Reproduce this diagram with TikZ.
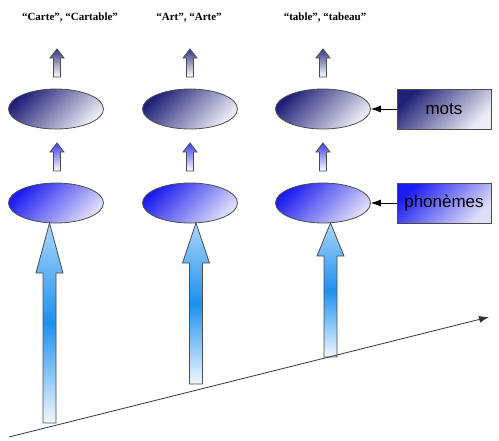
\documentclass[tikz,border=0pt]{standalone}
\usepackage{fontspec}
\setmainfont{Liberation Serif}
\setsansfont{Liberation Sans}
\usetikzlibrary{arrows.meta, positioning, shapes.geometric}

\definecolor{navy}{RGB}{32,32,120}
\definecolor{navylight}{RGB}{236,236,246}
\definecolor{royal}{RGB}{28,28,240}
\definecolor{royallight}{RGB}{222,222,248}
\definecolor{skytop}{RGB}{170,214,250}
\definecolor{skymid}{RGB}{30,144,240}
\definecolor{skybot}{RGB}{242,248,255}

\begin{document}
\begin{tikzpicture}[
  x=1pt, y=-1pt, font=\sffamily,
  > = {Latex[length=10pt,width=7pt]},
  outline/.style = {draw=black!70, line width=0.8pt},
  word/.style = {font=\rmfamily\bfseries\fontsize{11}{13}\selectfont},
  blob/.style = {outline, ellipse, minimum width=95pt, minimum height=40pt},
  upper/.style = {blob, top color=navy, bottom color=navylight, shading angle=45},
  lower/.style = {blob, top color=royal, bottom color=royallight, shading angle=45},
  level/.style = {outline, minimum width=94pt, minimum height=40pt, font=\sffamily\fontsize{17}{20}\selectfont},
  bigarrow/.style = {outline, top color=skytop, bottom color=skybot, middle color=skymid},
  tinyarrow/.style = {outline, top color=#1, bottom color=white}
  ]
  \useasboundingbox (0,0) rectangle (499,440);
  % words
  \node[word] (w1) at (70,18) {“Carte”, “Cartable”};
  \node[word] (w2) at (189,18) {“Art”, “Arte”};
  \node[word] (w3) at (325,18) {“table”, “tabeau”};
  % ellipses
  \node[upper] (ue1) at (56,109) {};
  \node[upper] (ue2) at (190,109) {};
  \node[upper] (ue3) at (323,109) {};
  \node[lower] (le1) at (56,203) {};
  \node[lower] (le2) at (190,203) {};
  \node[lower] (le3) at (323,203) {};
  % levels
  \node[level, top color=navy, bottom color=navylight, shading angle=45] (mots) at (444,109) {mots};
  \node[level, top color=royal, bottom color=royallight, shading angle=45] (phon) at (444,203) {phonèmes};
  \draw[->, line width=0.8pt] (mots) -- (ue3);
  \draw[->, line width=0.8pt] (phon) -- (le3);
  % small arrows
  \foreach \x in {57,190,323} {
    \shade[tinyarrow=navy!90] (\x,49) -- (\x+7,58) -- (\x+3.5,58) -- (\x+3.5,77)
      -- (\x-3.5,77) -- (\x-3.5,58) -- (\x-7,58) -- cycle;
    \shade[tinyarrow=royal!85] (\x,143) -- (\x+7,152) -- (\x+3.5,152) -- (\x+3.5,171)
      -- (\x-3.5,171) -- (\x-3.5,152) -- (\x-7,152) -- cycle;
  }
  % big arrows
  \foreach \x/\h/\b in {49.5/273/423, 196/263/384, 330.5/256/357} {
    \shade[bigarrow] (\x,223) -- (\x+13.5,\h) -- (\x+6.5,\h) -- (\x+6.5,\b)
      -- (\x-6.5,\b) -- (\x-6.5,\h) -- (\x-13.5,\h) -- cycle;
  }
  % axis
  \coordinate (a0) at (9,437);
  \coordinate (a1) at (489,317);
  \draw[->, line width=0.8pt, black!80] (a0) -- (a1);
\end{tikzpicture}
\end{document}
